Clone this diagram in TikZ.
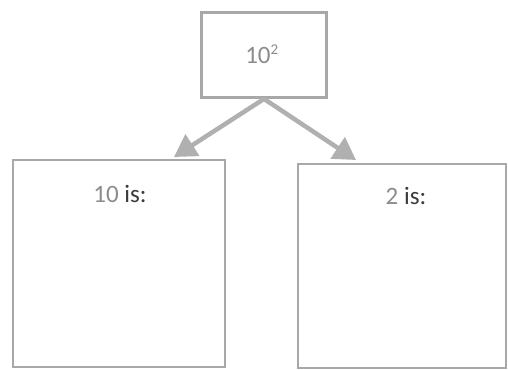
\documentclass[tikz,border=0pt]{standalone}
\usepackage{fontspec}
\setmainfont{Carlito}
\usetikzlibrary{arrows.meta}
\definecolor{boxgray}{HTML}{A8A8A8}
\definecolor{arrgray}{HTML}{B0B0B0}
\definecolor{lightnum}{HTML}{8C8C8C}
\definecolor{darktxt}{HTML}{3A3A3A}
\tikzset{
  box/.style={draw=boxgray, line width=2.8pt, rectangle, inner sep=0pt},
  conn/.style={draw=arrgray, line width=4.5pt, -{Triangle[length=22pt,width=25pt]}},
  lbl/.style={font=\fontsize{25}{28}\selectfont, inner sep=0pt}
}
\begin{document}
\begin{tikzpicture}[x=1pt,y=-1pt]
\useasboundingbox[fill=white] (0,0) rectangle (508,369);
\node[box, minimum width=125pt, minimum height=85pt] (top) at (264,55) {};
\node[lbl, text=lightnum] (toptxt) at (262,54) {10\textsuperscript{\fontsize{15}{16}\selectfont 2}};
\node[box, minimum width=212pt, minimum height=207pt] (left) at (119,263.5) {};
\node[box, minimum width=208pt, minimum height=204pt] (right) at (402,266) {};
\node[lbl, anchor=base] (ltxt) at (120,202) {\textcolor{lightnum}{10} \textcolor{darktxt}{is:}};
\node[lbl, anchor=base] (rtxt) at (406,204) {\textcolor{lightnum}{2} \textcolor{darktxt}{is:}};
\coordinate (ltip) at (174,157);
\coordinate (rtip) at (356,160);
\draw[conn] (top.south) -- (ltip);
\draw[conn] (top.south) -- (rtip);
\end{tikzpicture}
\end{document}
